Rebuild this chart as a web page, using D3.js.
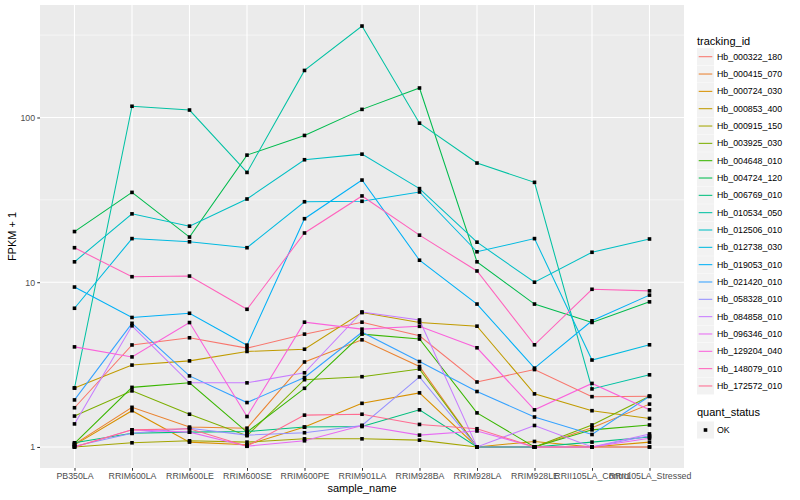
<!DOCTYPE html>
<html>
<head>
<meta charset="utf-8">
<script src="https://cdn.jsdelivr.net/npm/d3@7"></script>
<style>
  body { margin: 0; background: #fff; }
  text { font-family: "Liberation Sans", Arial, sans-serif; }
</style>
</head>
<body>
<div id="plot"></div>
<script>
// sample names on the x axis
var samples = ['PB350LA', 'RRIM600LA', 'RRIM600LE', 'RRIM600SE', 'RRIM600PE', 'RRIM901LA',
  'RRIM928BA', 'RRIM928LA', 'RRIM928LE', 'RRII105LA_Control', 'RRII105LA_Stressed'];

// FPKM + 1, one array per tracking_id, same order as samples
var hb_000322_180 = [1.73, 4.16, 4.6, 3.98, 4.84, 5.72, 4.73, 2.48, 2.95, 2.02, 2.03];
var hb_000415_070 = [1.04, 1.74, 1.32, 1.3, 3.28, 4.47, 3.08, 1.0, 1.0, 1.31, 1.82];
var hb_000724_030 = [1.03, 1.66, 1.07, 1.03, 1.32, 1.84, 2.13, 1.0, 1.08, 1.0, 1.07];
var hb_000853_400 = [2.28, 3.14, 3.33, 3.8, 3.92, 6.54, 5.7, 5.41, 2.1, 1.66, 1.49];
var hb_000915_150 = [1.0, 1.06, 1.09, 1.07, 1.12, 1.12, 1.1, 1.0, 1.0, 1.0, 1.0];
var hb_003925_030 = [1.54, 2.19, 1.58, 1.17, 2.56, 2.67, 2.97, 1.0, 1.0, 1.36, 2.03];
var hb_004648_010 = [1.05, 2.3, 2.45, 1.23, 2.27, 4.84, 4.52, 1.61, 1.0, 1.27, 1.36];
var hb_004724_120 = [20.3, 35.1, 18.8, 59.1, 77.8, 112, 151, 13.3, 7.37, 5.7, 7.6];
var hb_006769_010 = [1.06, 1.21, 1.23, 1.24, 1.32, 1.33, 1.68, 1.0, 1.0, 1.07, 1.15];
var hb_010534_050 = [2.28, 117, 111, 46.4, 193, 359, 92.4, 52.9, 40.4, 2.25, 2.74];
var hb_012506_010 = [13.3, 26, 21.9, 32, 55.4, 59.9, 37, 17.5, 10, 15.2, 18.3];
var hb_012738_030 = [6.95, 18.4, 17.6, 16.2, 30.8, 31, 35.3, 15.3, 18.4, 3.37, 4.17];
var hb_019053_010 = [9.35, 6.11, 6.48, 4.15, 24.3, 41.7, 13.6, 7.37, 3.01, 5.83, 8.35];
var hb_021420_010 = [1.93, 5.63, 2.7, 1.86, 2.64, 4.97, 3.3, 2.17, 1.52, 1.19, 2.03];
var hb_058328_010 = [1.01, 1.21, 1.3, 1.18, 1.22, 1.35, 2.66, 1.0, 1.0, 1.0, 1.17];
var hb_084858_010 = [1.38, 5.44, 2.45, 2.45, 2.82, 6.6, 5.9, 1.0, 1.35, 1.0, 1.2];
var hb_096346_010 = [1.0, 1.27, 1.23, 1.01, 1.09, 1.35, 1.18, 1.25, 1.0, 1.0, 1.13];
var hb_129204_040 = [4.05, 3.52, 5.69, 1.53, 5.72, 5.19, 5.4, 4.0, 1.68, 2.43, 1.68];
var hb_148079_010 = [16.2, 10.8, 10.9, 6.85, 19.9, 33.4, 19.3, 11.7, 4.17, 9.06, 8.86];
var hb_172572_010 = [1.0, 1.27, 1.29, 1.01, 1.56, 1.58, 1.37, 1.29, 1.0, 1.0, 1.0];

var trackingIds = ['Hb_000322_180', 'Hb_000415_070', 'Hb_000724_030', 'Hb_000853_400', 'Hb_000915_150',
  'Hb_003925_030', 'Hb_004648_010', 'Hb_004724_120', 'Hb_006769_010', 'Hb_010534_050',
  'Hb_012506_010', 'Hb_012738_030', 'Hb_019053_010', 'Hb_021420_010', 'Hb_058328_010',
  'Hb_084858_010', 'Hb_096346_010', 'Hb_129204_040', 'Hb_148079_010', 'Hb_172572_010'];

var seriesValues = [hb_000322_180, hb_000415_070, hb_000724_030, hb_000853_400, hb_000915_150,
  hb_003925_030, hb_004648_010, hb_004724_120, hb_006769_010, hb_010534_050,
  hb_012506_010, hb_012738_030, hb_019053_010, hb_021420_010, hb_058328_010,
  hb_084858_010, hb_096346_010, hb_129204_040, hb_148079_010, hb_172572_010];

// ggplot hue palette, 20 levels
var colours = ['#F8766D', '#EA8331', '#D89000', '#C09B00', '#A3A500', '#7CAE00', '#39B600', '#00BB4E',
  '#00BF7D', '#00C1A3', '#00BFC4', '#00BAE0', '#00B0F6', '#35A2FF', '#9590FF', '#C77CFF',
  '#E76BF3', '#FA62DB', '#FF62BC', '#FF6C91'];

var yTicks = [1, 10, 100];

var W = 800, H = 500;
var m = {top: 5, right: 116, bottom: 32, left: 40};
var pw = W - m.left - m.right;
var ph = H - m.top - m.bottom;

var series = trackingIds.map(function(id, i) {
  return {id: id, colour: colours[i], values: seriesValues[i].map(function(v, j) {
    return {sample: samples[j], value: v};
  })};
});

var svg = d3.select('#plot').append('svg')
  .attr('width', W)
  .attr('height', H);

svg.append('rect').attr('width', W).attr('height', H).attr('fill', '#fff');

var g = svg.append('g')
  .attr('transform', 'translate(' + m.left + ',' + m.top + ')');

var xscale = d3.scalePoint().domain(samples).range([0, pw]).padding(0.6);

// log axis with ggplot's 5% expansion
var allv = d3.merge(seriesValues);
var lo = Math.log10(d3.min(allv)), hi = Math.log10(d3.max(allv));
var ex = (hi - lo) * 0.05;
var yscale = d3.scaleLog().domain([Math.pow(10, lo - ex), Math.pow(10, hi + ex)]).range([ph, 0]);

g.append('rect')
  .attr('width', pw)
  .attr('height', ph)
  .attr('fill', '#EBEBEB');

// minor grid halfway (in log space) between the majors
var minor = [Math.pow(10, -0.5), Math.pow(10, 0.5), Math.pow(10, 1.5), Math.pow(10, 2.5)]
  .filter(function(v) { return v > yscale.domain()[0] && v < yscale.domain()[1]; });

g.selectAll('line.minor').data(minor).enter().append('line')
  .attr('class', 'minor')
  .attr('x1', 0).attr('x2', pw)
  .attr('y1', function(d) { return yscale(d); })
  .attr('y2', function(d) { return yscale(d); })
  .attr('stroke', '#fff').attr('stroke-width', 0.55);

g.selectAll('line.ymajor').data(yTicks).enter().append('line')
  .attr('class', 'ymajor')
  .attr('x1', 0).attr('x2', pw)
  .attr('y1', function(d) { return yscale(d); })
  .attr('y2', function(d) { return yscale(d); })
  .attr('stroke', '#fff').attr('stroke-width', 1.1);

g.selectAll('line.xmajor').data(samples).enter().append('line')
  .attr('class', 'xmajor')
  .attr('y1', 0).attr('y2', ph)
  .attr('x1', function(d) { return xscale(d); })
  .attr('x2', function(d) { return xscale(d); })
  .attr('stroke', '#fff').attr('stroke-width', 1.1);

var line = d3.line()
  .x(function(d) { return xscale(d.sample); })
  .y(function(d) { return yscale(d.value); });

g.selectAll('path.series').data(series).enter().append('path')
  .attr('class', 'series')
  .attr('d', function(d) { return line(d.values); })
  .attr('fill', 'none')
  .attr('stroke', function(d) { return d.colour; })
  .attr('stroke-width', 1.05);

var pts = d3.merge(series.map(function(s) { return s.values; }));
var ps = 3.6;
g.selectAll('rect.pt').data(pts).enter().append('rect')
  .attr('class', 'pt')
  .attr('x', function(d) { return xscale(d.sample) - ps / 2; })
  .attr('y', function(d) { return yscale(d.value) - ps / 2; })
  .attr('width', ps).attr('height', ps)
  .attr('fill', '#000');

// axes
var yaxis = d3.axisLeft(yscale).tickValues(yTicks).tickFormat(d3.format('d')).tickSize(2.75).tickPadding(2.2);
var ya = g.append('g').call(yaxis);
ya.select('.domain').remove();
ya.selectAll('line').attr('stroke', '#333333').attr('stroke-width', 1.05);
ya.selectAll('text').attr('fill', '#4D4D4D').style('font-size', '8.8px')
  .style('font-family', '"Liberation Sans", Arial, sans-serif');

var xaxis = d3.axisBottom(xscale).tickSize(2.75).tickPadding(2.2);
var xa = g.append('g').attr('transform', 'translate(0,' + ph + ')').call(xaxis);
xa.select('.domain').remove();
xa.selectAll('line').attr('stroke', '#333333').attr('stroke-width', 1.05);
xa.selectAll('text').attr('fill', '#4D4D4D').style('font-size', '8.8px')
  .style('font-family', '"Liberation Sans", Arial, sans-serif');

svg.append('text')
  .attr('x', m.left + pw / 2)
  .attr('y', 492)
  .attr('text-anchor', 'middle')
  .style('font-size', '11px')
  .text('sample_name');

svg.append('text')
  .attr('transform', 'translate(16,' + (m.top + ph / 2) + ') rotate(-90)')
  .attr('text-anchor', 'middle')
  .style('font-size', '11px')
  .text('FPKM + 1');

// legend
var lx = 697, ly0 = 56.7, step = 17.33, ks = 17;
var leg = svg.append('g');

leg.append('text')
  .attr('x', lx).attr('y', 44.5)
  .style('font-size', '11px')
  .text('tracking_id');

var item = leg.selectAll('g.item').data(series).enter().append('g')
  .attr('class', 'item')
  .attr('transform', function(d, i) { return 'translate(' + lx + ',' + (ly0 + i * step) + ')'; });

item.append('rect')
  .attr('x', 0).attr('y', -ks / 2)
  .attr('width', ks).attr('height', ks)
  .attr('fill', '#F2F2F2');

item.append('line')
  .attr('x1', 1.7).attr('x2', ks - 1.7)
  .attr('stroke', function(d) { return d.colour; })
  .attr('stroke-width', 1.05);

item.append('text')
  .attr('x', 20).attr('y', 3.1)
  .style('font-size', '8.8px')
  .text(function(d) { return d.id; });

leg.append('text')
  .attr('x', lx).attr('y', 416)
  .style('font-size', '11px')
  .text('quant_status');

var ok = leg.append('g').attr('transform', 'translate(' + lx + ',430)');
ok.append('rect')
  .attr('x', 0).attr('y', -ks / 2)
  .attr('width', ks).attr('height', ks)
  .attr('fill', '#F2F2F2');
ok.append('rect')
  .attr('x', ks / 2 - ps / 2).attr('y', -ps / 2)
  .attr('width', ps).attr('height', ps)
  .attr('fill', '#000');
ok.append('text')
  .attr('x', 20).attr('y', 3.1)
  .style('font-size', '8.8px')
  .text('OK');
</script>
</body>
</html>
